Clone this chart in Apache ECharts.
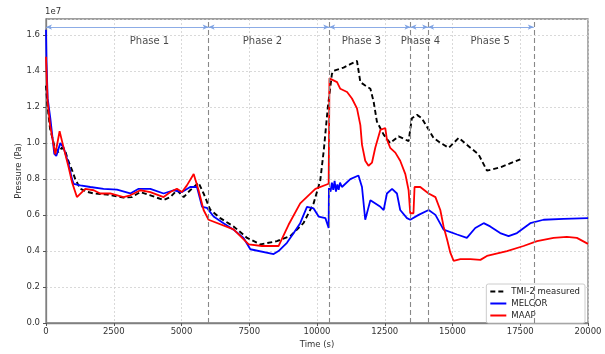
<!DOCTYPE html>
<html>
<head>
    <meta charset="utf-8">
    <script src="https://cdn.jsdelivr.net/npm/echarts@6.0.0/dist/echarts.min.js"></script>
    <style>
        html, body { margin: 0; padding: 0; background: #fff; }
    </style>
</head>
<body>
<div id="main" style="width: 605px;height:354px;"></div>
<script type="text/javascript">
    // values in units of 1e7 Pa, time in s
    var xTicks = [0, 2500, 5000, 7500, 10000, 12500, 15000, 17500, 20000];

    var measuredT = [0, 60, 150, 300, 450, 590, 712, 800, 960, 1080, 1265, 1500, 1760, 2250, 2860, 3170, 3480, 3850, 4340, 4590, 4830, 5080, 5320, 5630, 5815, 6060, 6430, 6920, 7420, 7910, 8520, 9010, 9500, 9875, 10120, 10250, 10400, 10550, 10610, 10980, 11230, 11475, 11520, 11600, 11780, 11970, 12090, 12210, 12460, 12700, 13010, 13380, 13500, 13690, 13870, 14300, 14550, 14860, 15230, 15660, 15960, 16270, 16760, 17500];
    var measuredP = [1.32, 1.2, 1.08, 0.99, 0.95, 0.975, 0.956, 0.91, 0.85, 0.80, 0.746, 0.73, 0.72, 0.714, 0.697, 0.70, 0.728, 0.71, 0.683, 0.70, 0.738, 0.70, 0.738, 0.78, 0.72, 0.63, 0.583, 0.537, 0.473, 0.437, 0.455, 0.483, 0.555, 0.665, 0.792, 0.96, 1.2, 1.384, 1.402, 1.42, 1.439, 1.457, 1.46, 1.339, 1.32, 1.302, 1.23, 1.12, 1.047, 1.0, 1.038, 1.011, 1.138, 1.157, 1.138, 1.029, 1.002, 0.974, 1.029, 0.974, 0.938, 0.847, 0.865, 0.91];

    var melcorT = [0, 20, 60, 160, 306, 380, 528, 650, 835, 960, 1020, 1265, 1635, 2125, 2620, 3110, 3420, 3850, 4340, 4710, 5020, 5320, 5570, 5760, 5940, 6185, 6550, 6920, 7290, 7540, 8400, 8580, 8890, 9140, 9380, 9630, 9875, 10060, 10310, 10430, 10440, 10500, 10550, 10600, 10650, 10700, 10750, 10800, 10850, 10920, 11230, 11530, 11660, 11780, 11970, 12340, 12460, 12580, 12770, 12950, 13070, 13320, 13440, 13750, 14120, 14370, 14670, 15170, 15530, 15840, 16150, 16390, 16760, 17070, 17380, 17870, 18360, 19100, 20000];
    var melcorP = [1.63, 1.45, 1.25, 1.138, 0.94, 0.929, 1.0, 0.975, 0.883, 0.80, 0.774, 0.765, 0.756, 0.746, 0.741, 0.72, 0.746, 0.746, 0.72, 0.738, 0.728, 0.756, 0.756, 0.646, 0.64, 0.592, 0.555, 0.519, 0.473, 0.41, 0.383, 0.40, 0.446, 0.50, 0.555, 0.646, 0.637, 0.592, 0.583, 0.528, 0.75, 0.73, 0.78, 0.74, 0.79, 0.73, 0.77, 0.74, 0.78, 0.756, 0.80, 0.82, 0.756, 0.574, 0.683, 0.646, 0.628, 0.72, 0.746, 0.72, 0.628, 0.583, 0.574, 0.601, 0.628, 0.601, 0.519, 0.492, 0.473, 0.528, 0.555, 0.537, 0.50, 0.483, 0.50, 0.555, 0.574, 0.579, 0.583];

    var maapT = [0, 30, 60, 150, 343, 502, 650, 835, 960, 1140, 1450, 1760, 2000, 2370, 2860, 3110, 3480, 3850, 4340, 4590, 4830, 5020, 5200, 5450, 5630, 5815, 6000, 6060, 6920, 7480, 7970, 8580, 8950, 9380, 9940, 10430, 10460, 10515, 10740, 10860, 11110, 11290, 11475, 11600, 11660, 11780, 11900, 12030, 12150, 12340, 12520, 12580, 12700, 12890, 13070, 13260, 13380, 13440, 13560, 13600, 13630, 13810, 14120, 14370, 14550, 14670, 14800, 14920, 15040, 15290, 15660, 16030, 16270, 17010, 17620, 18120, 18730, 19220, 19590, 20000];
    var maapP = [1.48, 1.35, 1.23, 1.1, 0.938, 1.066, 0.975, 0.865, 0.783, 0.70, 0.746, 0.738, 0.72, 0.72, 0.70, 0.71, 0.738, 0.728, 0.70, 0.728, 0.746, 0.728, 0.765, 0.828, 0.738, 0.628, 0.574, 0.57, 0.52, 0.437, 0.428, 0.428, 0.546, 0.665, 0.746, 0.774, 1.36, 1.366, 1.339, 1.302, 1.284, 1.248, 1.193, 1.10, 0.992, 0.902, 0.874, 0.892, 0.974, 1.074, 1.084, 1.02, 0.974, 0.947, 0.902, 0.828, 0.738, 0.61, 0.61, 0.756, 0.756, 0.756, 0.72, 0.70, 0.628, 0.537, 0.464, 0.391, 0.346, 0.355, 0.355, 0.351, 0.373, 0.40, 0.428, 0.455, 0.473, 0.479, 0.473, 0.44];

    // phase boundaries and labels
    var phaseBounds = [0, 6000, 10450, 13450, 14100, 18000];
    var phaseNames = ['Phase 1', 'Phase 2', 'Phase 3', 'Phase 4', 'Phase 5'];
    var phaseLabelX = [3820, 7990, 11640, 13815, 16390];
    var phaseLabelY = 1.565;
    var arrowY = 1.645;

    function zip(t, p) {
        var out = [];
        for (var i = 0; i < t.length; i++) out.push([t[i], p[i]]);
        return out;
    }

    var vLines = [];
    for (var i = 1; i < phaseBounds.length; i++) vLines.push({xAxis: phaseBounds[i]});
    var arrows = [];
    for (var i = 0; i < phaseBounds.length - 1; i++) {
        arrows.push([{coord: [phaseBounds[i], arrowY]}, {coord: [phaseBounds[i + 1], arrowY]}]);
    }
    var phaseText = [];
    for (var i = 0; i < phaseNames.length; i++) phaseText.push([phaseLabelX[i], phaseLabelY, phaseNames[i]]);

    var font = 'DejaVu Sans';
    var myChart = echarts.init(document.getElementById('main'));
    myChart.setOption({
        animation: false,
        textStyle: {fontFamily: font},
        grid: {left: 46, right: 17, top: 19, bottom: 26, show: true, borderColor: '#808080', borderWidth: 1.3},
        graphic: [{type: 'text', left: 45, top: 7, style: {text: '1e7', fontSize: 8.5, fontFamily: font, fill: '#333'}}],
        legend: {
            data: ['TMI-2 measured', 'MELCOR', 'MAAP'],
            orient: 'vertical', right: 20, bottom: 31,
            itemWidth: 16, itemHeight: 8, itemGap: 3,
            padding: [3, 5, 3, 3],
            itemStyle: {opacity: 0},
            backgroundColor: '#fff', borderColor: '#cccccc', borderWidth: 1, borderRadius: 2,
            textStyle: {fontSize: 8.5, color: '#222', fontFamily: font}
        },
        xAxis: {
            type: 'value', min: 0, max: 20000, interval: 2500,
            name: 'Time (s)', nameLocation: 'middle', nameGap: 17, nameMoveOverlap: false,
            nameTextStyle: {fontSize: 8.5, color: '#333'},
            axisLine: {lineStyle: {color: '#808080', width: 1.3}},
            axisTick: {show: true, length: 3, lineStyle: {color: '#555'}},
            axisLabel: {fontSize: 8.5, color: '#333', margin: 4,
                formatter: function (v) { return String(v); }},
            splitLine: {show: true, lineStyle: {type: [2, 2], color: '#d0d0d0', width: 0.8}}
        },
        yAxis: {
            type: 'value', min: 0, max: 1.69, interval: 0.2,
            name: 'Pressure (Pa)', nameLocation: 'middle', nameGap: 23, nameRotate: 90, nameMoveOverlap: false,
            nameTextStyle: {fontSize: 8.5, color: '#333'},
            axisLine: {show: true, lineStyle: {color: '#808080', width: 1.3}},
            axisTick: {show: true, length: 3, lineStyle: {color: '#555'}},
            axisLabel: {fontSize: 8.5, color: '#333', margin: 6, showMaxLabel: false,
                formatter: function (v) { return v.toFixed(1); }},
            splitLine: {show: true, lineStyle: {type: [2, 2], color: '#d0d0d0', width: 0.8}}
        },
        series: [
            {
                name: 'TMI-2 measured', type: 'line', data: zip(measuredT, measuredP),
                symbol: 'none', color: '#000',
                lineStyle: {color: '#000', width: 1.9, type: [5, 3]},
                markLine: {
                    silent: true, symbol: 'none', label: {show: false},
                    lineStyle: {type: [5, 3], color: '#888', width: 1.1},
                    data: vLines
                }
            },
            {
                name: 'MELCOR', type: 'line', data: zip(melcorT, melcorP),
                symbol: 'none', color: '#0000ff',
                lineStyle: {color: '#0000ff', width: 1.8},
                markLine: {
                    silent: true, symbol: ['arrow', 'arrow'], symbolSize: [4, 6], label: {show: false},
                    lineStyle: {type: 'solid', color: '#7fa3e3', width: 0.9},
                    data: arrows
                }
            },
            {
                name: 'MAAP', type: 'line', data: zip(maapT, maapP),
                symbol: 'none', color: '#ff0000',
                lineStyle: {color: '#ff0000', width: 1.8}
            },
            {
                name: 'phases', type: 'scatter', data: phaseText, symbolSize: 0, silent: true,
                label: {show: true, position: 'inside', fontSize: 10, color: '#1a1a1a', fontFamily: font,
                    textBorderWidth: 0, formatter: function (p) { return p.data[2]; }}
            }
        ]
    });
</script>
</body>
</html>
